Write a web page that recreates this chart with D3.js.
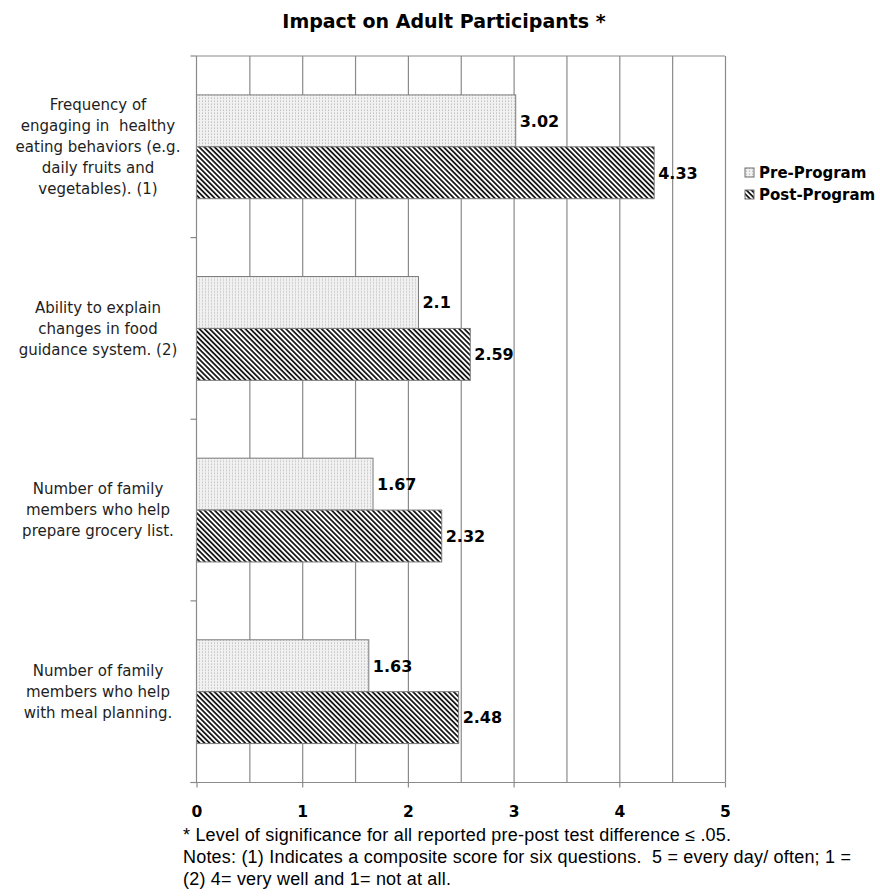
<!DOCTYPE html>
<html lang="en">
<head>
<meta charset="UTF-8"/>
<title>Impact on Adult Participants</title>
<script src="https://d3js.org/d3.v7.min.js"></script>
<style>
    body { margin: 0; background: #fff; }
    .grid line { stroke: #8a8a8a; stroke-width: 1.2; }
    .grid path { display: none; }
    .xaxis path, .xaxis line { stroke: #8a8a8a; stroke-width: 1.2; }
    .xaxis text { font: bold 15.5px "DejaVu Sans", Verdana, sans-serif; fill: #000; }
    .cat { font: 15px "DejaVu Sans", Tahoma, sans-serif; fill: #1e1e1e; }
    .val { font: bold 16px "DejaVu Sans", Verdana, sans-serif; fill: #000; }
    .legend { font: bold 15px "DejaVu Sans", Verdana, sans-serif; fill: #000; }
    .note { font: 18px "Liberation Sans", Arial, sans-serif; fill: #000; white-space: pre; letter-spacing: 0.2px; }
</style>
</head>
<body>
<div id="chart"></div>
<script>
    // data
    var categories = [
        ["Frequency of", "engaging in  healthy", "eating behaviors (e.g.", "daily fruits and", "vegetables). (1)"],
        ["Ability to explain", "changes in food", "guidance system. (2)"],
        ["Number of family", "members who help", "prepare grocery list."],
        ["Number of family", "members who help", "with meal planning."]
    ];
    var series = ["Pre-Program", "Post-Program"];
    var preValues = [3.02, 2.1, 1.67, 1.63];
    var postValues = [4.33, 2.59, 2.32, 2.48];
    var xTicks = [0, 1, 2, 3, 4, 5];
    var gridTicks = [0.5, 1, 1.5, 2, 2.5, 3, 3.5, 4, 4.5, 5];
    var notes = [
        "* Level of significance for all reported pre-post test difference \u2264 .05.",
        "Notes: (1) Indicates a composite score for six questions.  5 = every day/ often; 1 =",
        "(2) 4= very well and 1= not at all."
    ];

    function barChart() {
        var w = 880, h = 896;
        var pLeft = 196.5, pRight = 725, pTop = 56, pBottom = 782.5;

        var svg = d3.select("#chart").append("svg")
            .attr("width", w).attr("height", h);

        var defs = svg.append("defs");
        // dotted light fill for pre-program
        var pre = defs.append("pattern").attr("id", "prePat")
            .attr("patternUnits", "userSpaceOnUse").attr("width", 3).attr("height", 3);
        pre.append("rect").attr("width", 3).attr("height", 3).attr("fill", "#f1f1f1");
        pre.append("rect").attr("x", 1).attr("y", 0).attr("width", 1).attr("height", 1).attr("fill", "#c4c4c4");
        pre.append("rect").attr("x", 1).attr("y", 2).attr("width", 1).attr("height", 1).attr("fill", "#d6d6d6");
        // diagonal hatch for post-program
        var post = defs.append("pattern").attr("id", "postPat")
            .attr("patternUnits", "userSpaceOnUse").attr("width", 3.6).attr("height", 10)
            .attr("patternTransform", "rotate(-45)");
        post.append("rect").attr("width", 3.6).attr("height", 10).attr("fill", "#fff");
        post.append("line").attr("x1", 0.9).attr("x2", 0.9).attr("y1", 0).attr("y2", 10)
            .attr("stroke", "#1a1a1a").attr("stroke-width", 1.8);
        var fills = ["url(#prePat)", "url(#postPat)"];

        var xScale = d3.scaleLinear().domain([0, 5]).range([pLeft, pRight]);
        var yScale = d3.scaleBand().domain(d3.range(categories.length)).range([pTop, pBottom]);
        var ySub = d3.scaleBand().domain(series).range([0, yScale.bandwidth()])
            .paddingInner(0).paddingOuter(0.75);

        // title
        svg.append("text")
            .attr("x", 444).attr("y", 28)
            .attr("text-anchor", "middle")
            .style("font", "bold 19px 'DejaVu Sans', Verdana, sans-serif")
            .text("Impact on Adult Participants *");

        // vertical gridlines
        svg.append("g").attr("class", "grid")
            .attr("transform", `translate(0, ${pBottom})`)
            .call(d3.axisBottom(xScale).tickValues(gridTicks).tickSize(-(pBottom - pTop)).tickFormat(""));

        // top border
        svg.append("line").attr("x1", pLeft).attr("x2", pRight).attr("y1", pTop).attr("y2", pTop)
            .attr("stroke", "#8a8a8a").attr("stroke-width", 1.2);

        // bars
        var rows = categories.map(function(c, i) {
            return { i: i, values: [preValues[i], postValues[i]] };
        });
        var group = svg.selectAll(".row").data(rows).enter().append("g")
            .attr("class", "row")
            .attr("transform", d => `translate(0, ${yScale(d.i)})`);
        group.selectAll("rect").data(d => d.values.map((v, k) => ({ s: series[k], k: k, v: v })))
            .enter().append("rect")
            .attr("x", xScale(0))
            .attr("y", d => ySub(d.s))
            .attr("width", d => xScale(d.v) - xScale(0))
            .attr("height", ySub.bandwidth())
            .attr("fill", d => fills[d.k])
            .attr("stroke", "#7a7a7a").attr("stroke-width", 1);
        group.selectAll(".val").data(d => d.values.map((v, k) => ({ s: series[k], v: v })))
            .enter().append("text").attr("class", "val")
            .attr("x", d => xScale(d.v) + 4)
            .attr("y", d => ySub(d.s) + ySub.bandwidth() / 2)
            .attr("dy", "0.36em")
            .text(d => d.v);

        // left axis with ticks at band edges
        svg.append("line").attr("x1", pLeft).attr("x2", pLeft).attr("y1", pTop).attr("y2", pBottom)
            .attr("stroke", "#8a8a8a").attr("stroke-width", 1.2);
        var edges = d3.range(categories.length + 1).map(i => pTop + i * yScale.step());
        svg.selectAll(".ytick").data(edges).enter().append("line")
            .attr("class", "ytick")
            .attr("x1", pLeft - 6).attr("x2", pLeft).attr("y1", d => d).attr("y2", d => d)
            .attr("stroke", "#8a8a8a").attr("stroke-width", 1.2);

        // category labels
        svg.selectAll(".cat").data(categories).enter().append("text").attr("class", "cat")
            .attr("text-anchor", "middle")
            .each(function(lines, i) {
                var cy = yScale(i) + yScale.bandwidth() / 2;
                var start = cy - (lines.length - 1) * 21 / 2;
                d3.select(this).selectAll("tspan").data(lines).enter().append("tspan")
                    .attr("x", 98).attr("y", (d, j) => start + j * 21).attr("dy", "0.35em")
                    .attr("xml:space", "preserve")
                    .text(d => d);
            });

        // bottom axis
        var xAxis = svg.append("g").attr("class", "xaxis")
            .attr("transform", `translate(0, ${pBottom})`)
            .call(d3.axisBottom(xScale).tickValues(xTicks).tickFormat(d3.format("d"))
                .tickSize(5).tickSizeOuter(0).tickPadding(18));
        xAxis.select(".domain").attr("d", `M${pLeft - 6},0H${pRight}`);

        // legend
        var leg = svg.selectAll(".leg").data(series).enter().append("g")
            .attr("class", "leg")
            .attr("transform", (d, i) => `translate(745, ${168 + i * 22})`);
        leg.append("rect").attr("width", 9).attr("height", 9)
            .attr("fill", (d, i) => fills[i]).attr("stroke", "#6a6a6a");
        leg.append("text").attr("class", "legend").attr("x", 14).attr("y", 9.5).text(d => d);

        // footnotes
        svg.selectAll(".note").data(notes).enter().append("text").attr("class", "note")
            .attr("x", 183).attr("y", (d, i) => 841 + i * 22)
            .text(d => d);
    }
    barChart();
</script>
</body>
</html>
